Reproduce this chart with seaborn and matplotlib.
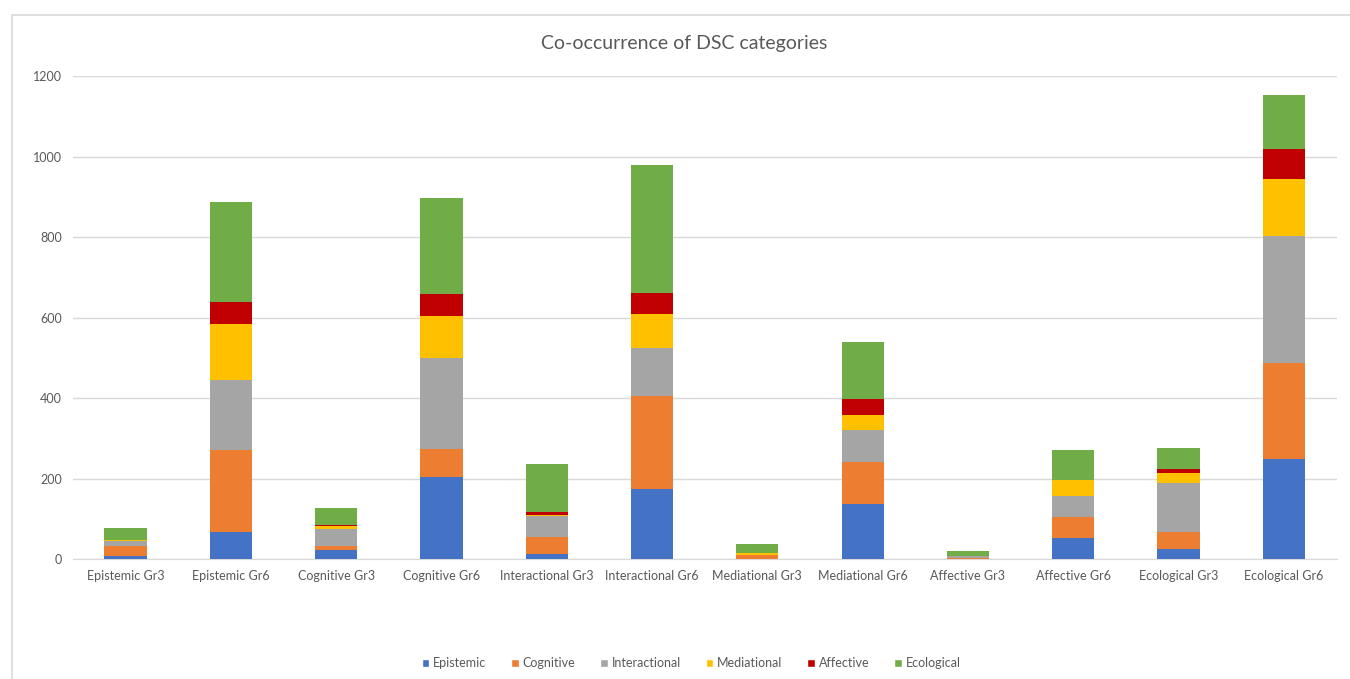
import matplotlib
matplotlib.use("Agg")
import matplotlib.pyplot as plt
from matplotlib.patches import Patch, Rectangle
import seaborn as sns
import numpy as np
import pandas as pd

groups = ["Epistemic Gr3", "Epistemic Gr6", "Cognitive Gr3", "Cognitive Gr6",
          "Interactional Gr3", "Interactional Gr6", "Mediational Gr3", "Mediational Gr6",
          "Affective Gr3", "Affective Gr6", "Ecological Gr3", "Ecological Gr6"]

series = ["Epistemic", "Cognitive", "Interactional", "Mediational", "Affective", "Ecological"]

epistemic = [8, 68, 22, 203, 12, 174, 1, 136, 1, 51, 25, 249]
cognitive = [25, 203, 11, 71, 43, 230, 8, 105, 2, 53, 43, 237]
interactional = [12, 174, 41, 225, 53, 121, 0, 80, 4, 53, 120, 316]
mediational = [3, 140, 8, 105, 2, 83, 5, 38, 0, 39, 25, 143]
affective = [0, 54, 2, 54, 6, 52, 0, 39, 0, 0, 10, 73]
ecological = [28, 249, 44, 239, 120, 318, 23, 142, 13, 75, 52, 135]

colors = ["#4472C4", "#ED7D31", "#A5A5A5", "#FFC000", "#C00000", "#70AD47"]

df = pd.DataFrame({"group": groups, "Epistemic": epistemic, "Cognitive": cognitive,
                   "Interactional": interactional, "Mediational": mediational,
                   "Affective": affective, "Ecological": ecological})

sns.set_style("white")
plt.rcParams['font.family'] = ['Lato', 'DejaVu Sans']

fig = plt.figure(figsize=(13.5, 6.79), dpi=100)
ax = fig.add_axes([0.054, 0.1767, 0.936, 0.7113])

# frame around chart area
fig.patches.append(Rectangle((12 / 1350, -0.1), 1.2, 1 - 15 / 679 + 0.1,
                             transform=fig.transFigure, fill=False,
                             edgecolor="#D9D9D9", linewidth=1.2))

# stacked bars: draw cumulative totals from the top series down
cum = df[series].cumsum(axis=1)
for s, c in reversed(list(zip(series, colors))):
    sns.barplot(x=df["group"], y=cum[s], color=c, width=0.4, saturation=1,
                ax=ax, zorder=3, linewidth=0, edgecolor="none")

ax.set_ylim(0, 1200)
ax.set_yticks(range(0, 1201, 200))
ax.yaxis.grid(True, color="#D9D9D9", linewidth=1)
ax.set_axisbelow(True)
ax.set_xlabel("")
ax.set_ylabel("")
for sp in ["top", "right", "left"]:
    ax.spines[sp].set_visible(False)
ax.spines["bottom"].set_color("#D9D9D9")
ax.tick_params(axis="both", length=0, labelsize=9, colors="#595959", pad=8)

fig.text(0.507, 1 - 43 / 679, "Co-occurrence of DSC categories", ha="center",
         va="center", fontsize=14, color="#595959")

handles = [Patch(facecolor=c, label=s) for s, c in zip(series, colors)]
fig.legend(handles=handles, loc="center", bbox_to_anchor=(0.512, 1 - 663 / 679),
           ncol=6, frameon=False, fontsize=9, handlelength=0.6, handleheight=0.6,
           handletextpad=0.3, columnspacing=2.0, labelcolor="#595959")

fig.savefig("out.png", dpi=100, facecolor="white")
